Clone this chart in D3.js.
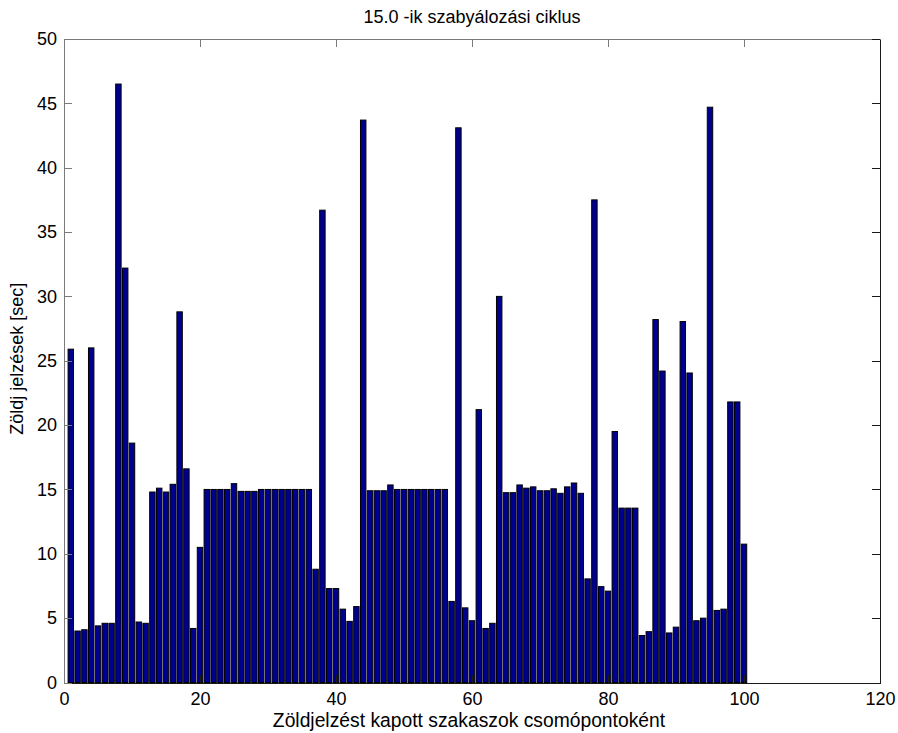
<!DOCTYPE html>
<html>
<head>
<meta charset="utf-8">
<script src="https://cdn.jsdelivr.net/npm/d3@7/dist/d3.min.js"></script>
<style>
  html, body { margin: 0; padding: 0; background: #fff; }
  svg { display: block; }
  text { font-family: Arial, "Liberation Sans", Helvetica, sans-serif; fill: #000; }
</style>
</head>
<body>
<svg id="chart" width="898" height="733"></svg>
<script>
// Green time per node for the 15th control cycle
const nodes = d3.range(1, 101);
const greenTimes = [
  25.9, 4.0, 4.1, 26.0, 4.4, 4.6, 4.6, 46.5, 32.2, 18.6,
  4.7, 4.6, 14.8, 15.1, 14.8, 15.4, 28.8, 16.6, 4.2, 10.5,
  15.0, 15.0, 15.0, 15.0, 15.45, 14.85, 14.85, 14.85, 15.0, 15.0,
  15.0, 15.0, 15.0, 15.0, 15.0, 15.0, 8.8, 36.7, 7.3, 7.3,
  5.7, 4.75, 5.9, 43.7, 14.9, 14.9, 14.9, 15.35, 15.0, 15.0,
  15.0, 15.0, 15.0, 15.0, 15.0, 15.0, 6.3, 43.1, 5.8, 4.8,
  21.2, 4.2, 4.6, 30.0, 14.75, 14.75, 15.35, 15.1, 15.2, 14.9,
  14.9, 15.05, 14.7, 15.2, 15.5, 14.7, 8.05, 37.5, 7.45, 7.1,
  19.5, 13.55, 13.55, 13.55, 3.65, 3.95, 28.2, 24.2, 3.85, 4.3,
  28.05, 24.05, 4.8, 5.0, 44.7, 5.6, 5.7, 21.8, 21.8, 10.75
];
const xTicks = [0, 20, 40, 60, 80, 100, 120];
const yTicks = [0, 5, 10, 15, 20, 25, 30, 35, 40, 45, 50];

const titleText = "15.0 -ik szabyálozási ciklus";
const xLabel = "Zöldjelzést kapott szakaszok csomópontoként";
const yLabel = "Zöldj jelzések [sec]";

const svg = d3.select("#chart");
const plot = { left: 64, right: 880, top: 39, bottom: 682.5 };

const x = d3.scaleLinear().domain([0, 120]).range([plot.left, plot.right]);
const y = d3.scaleLinear().domain([0, 50]).range([plot.bottom, plot.top]);
const barW = (x(1) - x(0)) * 0.8;

// bars
svg.append("g")
  .selectAll("rect")
  .data(nodes.map((n, i) => ({ n, v: greenTimes[i] })))
  .join("rect")
  .attr("x", d => x(d.n) - barW / 2)
  .attr("width", barW)
  .attr("y", d => y(d.v))
  .attr("height", d => y(0) - y(d.v))
  .attr("fill", "#00008f")
  .attr("stroke", "#000")
  .attr("stroke-width", 1);

// axes (ticks pointing inward, box on all four sides)
const fontSize = 18;
function styleAxis(g, color) {
  g.select(".domain").attr("stroke", color).attr("stroke-width", 1);
  g.selectAll(".tick line").attr("stroke", color).attr("stroke-width", 1);
  g.selectAll("text").attr("font-size", fontSize).attr("fill", "#000")
    .style("font-family", "Arial, 'Liberation Sans', sans-serif");
  g.attr("shape-rendering", "crispEdges");
}

svg.append("g")
  .attr("transform", `translate(0,${plot.bottom})`)
  .call(d3.axisBottom(x).tickValues(xTicks).tickSize(-8).tickSizeOuter(0).tickPadding(10))
  .call(g => styleAxis(g, "#1a1a1a"));

svg.append("g")
  .attr("transform", `translate(0,${plot.top})`)
  .call(d3.axisTop(x).tickValues(xTicks).tickSize(-8).tickSizeOuter(0).tickFormat(""))
  .call(g => styleAxis(g, "#7a7a7a"));

svg.append("g")
  .attr("transform", `translate(${plot.left},0)`)
  .call(d3.axisLeft(y).tickValues(yTicks).tickSize(-8).tickSizeOuter(0).tickPadding(7))
  .call(g => styleAxis(g, "#7a7a7a"));

svg.append("g")
  .attr("transform", `translate(${plot.right},0)`)
  .call(d3.axisRight(y).tickValues(yTicks).tickSize(-8).tickSizeOuter(0).tickFormat(""))
  .call(g => styleAxis(g, "#1a1a1a"));

// title and axis labels
const midX = (plot.left + plot.right) / 2;
const midY = (plot.top + plot.bottom) / 2;

svg.append("text")
  .attr("x", midX).attr("y", 23)
  .attr("text-anchor", "middle")
  .attr("font-size", fontSize)
  .text(titleText);

svg.append("text")
  .attr("x", midX - 3).attr("y", 727)
  .attr("text-anchor", "middle")
  .attr("font-size", 19.3)
  .text(xLabel);

svg.append("text")
  .attr("transform", `translate(23,${midY - 2}) rotate(-90)`)
  .attr("text-anchor", "middle")
  .attr("font-size", fontSize)
  .text(yLabel);
</script>
</body>
</html>
